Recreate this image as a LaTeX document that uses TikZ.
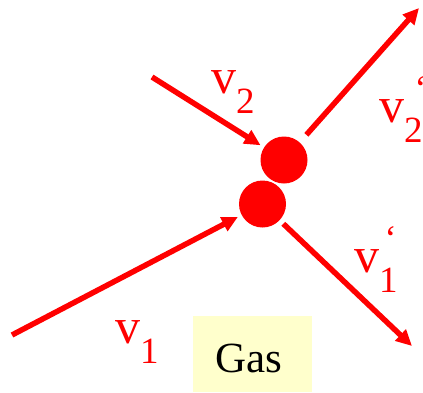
\documentclass[tikz,border=0pt]{standalone}
\usepackage{fontspec}
\setmainfont{Liberation Serif}
\usetikzlibrary{arrows.meta,positioning}
\definecolor{ballred}{HTML}{FF0000}
\definecolor{gasfill}{HTML}{FFFFCC}
\newcommand{\vsub}[1]{v\raisebox{-20pt}{\fontsize{37}{37}\selectfont #1}}
\newcommand{\vsubp}[2][-4pt]{v\raisebox{-20pt}{\fontsize{37}{37}\selectfont #2}\hspace{#1}\raisebox{22pt}{\fontsize{36}{36}\selectfont ‘}\hspace{-8pt}}
\tikzset{
  ball/.style={circle,fill=ballred,minimum size=47pt,inner sep=0pt},
  vel/.style={-{Triangle[length=16pt,width=15pt]},line width=5.5pt,draw=ballred},
  vlabel/.style={text=ballred,font=\fontsize{50}{50}\selectfont,inner sep=0pt,anchor=base west},
  gasbox/.style={fill=gasfill,minimum width=119pt,minimum height=76pt,inner sep=0pt,anchor=north west}
}
\begin{document}
\begin{tikzpicture}[x=1pt,y=-1pt]
  \useasboundingbox (0,0) rectangle (423,392);
  % the two colliding particles
  \node[ball] (upper) at (284,160) {};
  \node[ball] (lower) at (262.5,204) {};
  % free ends of the velocity arrows
  \coordinate (in2) at (152,77);
  \coordinate (in1) at (12,335);
  \coordinate (out2) at (419,8);
  \coordinate (out1) at (412,346);
  \draw[vel,shorten >=4pt] (in2) -- (upper);
  \draw[vel,shorten >=4pt] (in1) -- (lower);
  \draw[vel,shorten <=10pt] (upper) -- (out2);
  \draw[vel,shorten <=5pt] (lower) -- (out1);
  % labels
  \node[vlabel] (v2) at (211,93) {\vsub{2}};
  \node[vlabel] (v1) at (115,343) {\vsub{1}};
  \node[vlabel] (v2p) at (379,122) {\vsubp[-8pt]{2}};
  \node[vlabel] (v1p) at (354,272) {\vsubp[-13pt]{1}};
  \node[gasbox] (gasbg) at (193,316) {};
  \node[inner sep=0pt,anchor=base west,font=\fontsize{43}{43}\selectfont] (gas) at (215,372) {Gas};
\end{tikzpicture}
\end{document}
